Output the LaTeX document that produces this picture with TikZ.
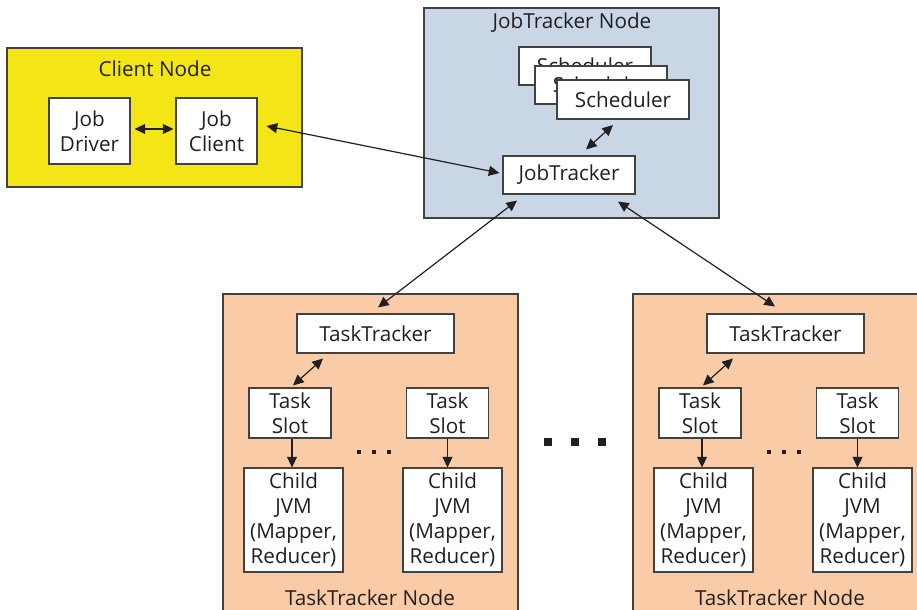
\documentclass[tikz,border=0pt]{standalone}
\usepackage{fontspec}
\setmainfont{Open Sans}
\usetikzlibrary{arrows.meta,calc}

\definecolor{clientyellow}{HTML}{F4E616}
\definecolor{jtblue}{HTML}{C9D6E5}
\definecolor{ttorange}{HTML}{F9CBA6}
\definecolor{inkgray}{HTML}{231F20}

\begin{document}
\begin{tikzpicture}[x=0.75pt, y=-0.75pt, line width=0.9pt, draw=inkgray, text=inkgray,
		font=\fontsize{15.5}{18.75}\selectfont,
		>={Triangle[length=8pt,width=7.5pt]}]
		\clip (0,0) rectangle (917,610);
		% machines
		\begin{scope}[every node/.style={draw=inkgray!85, line width=0.8pt, inner sep=0pt, minimum width=221.25pt}]
			\node[fill=clientyellow, minimum height=104.25pt] (client) at (154.5,117.5) {};
			\node[fill=jtblue, minimum height=157.5pt] (jtnode) at (571.5,113) {};
			\node[fill=ttorange, minimum height=267pt] (ttnodeL) at (370.5,472) {};
			\node[fill=ttorange, minimum height=267pt] (ttnodeR) at (780.5,472) {};
		\end{scope}
		\begin{scope}[every node/.style={}]
			\node (clienttitle) at (155,69) {Client Node};
			\node (jttitle) at (572,23) {JobTracker Node};
			\node (tttitleL) at (370,598) {TaskTracker Node};
			\node (tttitleR) at (780,598) {TaskTracker Node};
		\end{scope}
		% processes
		\begin{scope}[every node/.style={draw=inkgray!85, fill=white, line width=0.8pt, inner sep=0pt, align=center}]
			\node[minimum width=60.75pt, minimum height=49.5pt] (jobdriver) at (89.5,131) {Job\\Driver};
			\node[minimum width=60.75pt, minimum height=49.5pt] (jobclient) at (216.5,131) {Job\\Client};
			\node[minimum width=99pt, minimum height=28.5pt] (sched1) at (585,66) {Scheduler};
			\node[minimum width=99pt, minimum height=28.5pt] (sched2) at (601,85) {Scheduler};
			\node[minimum width=99pt, minimum height=29.25pt] (sched3) at (623,99.5) {Scheduler};
			\node[minimum width=99pt, minimum height=28.5pt] (jobtracker) at (569,175) {JobTracker};
			\node[minimum width=117.75pt, minimum height=29.25pt] (ttL) at (375.5,333.5) {TaskTracker};
			\node[minimum width=61.5pt, minimum height=37.5pt] (slotL1) at (290,413) {Task\\Slot};
			\node[minimum width=61.5pt, minimum height=37.5pt] (slotL2) at (447.5,413) {Task\\Slot};
			\node[minimum width=74.25pt, minimum height=78pt] (jvmL1) at (293.5,520) {Child\\JVM\\(Mapper,\\Reducer)};
			\node[minimum width=74.25pt, minimum height=78pt] (jvmL2) at (452.5,520) {Child\\JVM\\(Mapper,\\Reducer)};
			\node[minimum width=117.75pt, minimum height=29.25pt] (ttR) at (785.5,333.5) {TaskTracker};
			\node[minimum width=61.5pt, minimum height=37.5pt] (slotR1) at (700,413) {Task\\Slot};
			\node[minimum width=61.5pt, minimum height=37.5pt] (slotR2) at (857.5,413) {Task\\Slot};
			\node[minimum width=74.25pt, minimum height=78pt] (jvmR1) at (703.5,520) {Child\\JVM\\(Mapper,\\Reducer)};
			\node[minimum width=74.25pt, minimum height=78pt] (jvmR2) at (862.5,520) {Child\\JVM\\(Mapper,\\Reducer)};
		\end{scope}
		% more slots, more nodes
		\begin{scope}[every node/.style={inner sep=0pt}]
			\node (dotsL) at (374,452) {\rule{3pt}{3pt}\hspace{8.6pt}\rule{3pt}{3pt}\hspace{8.6pt}\rule{3pt}{3pt}};
			\node (dotsR) at (784,452) {\rule{3pt}{3pt}\hspace{8.6pt}\rule{3pt}{3pt}\hspace{8.6pt}\rule{3pt}{3pt}};
			\node (dotsMid) at (575,442) {\rule{6pt}{6pt}\hspace{14.25pt}\rule{6pt}{6pt}\hspace{14.25pt}\rule{6pt}{6pt}};
		\end{scope}
		% links
		\begin{scope}[<->]
			\path ($(jobdriver.east)+(4,-2)$) edge ($(jobclient.west)+(-2,-2)$);
			\path ($(jobclient.east)+(9,-5)$) edge ($(jobtracker.west)+(-3,-2)$);
			\path ($(jobtracker.north)+(17,-6)$) edge ($(sched3.south)+(-10,5.5)$);
			\path ($(jobtracker.south)+(-52,6)$) edge ($(ttL.north)+(2.5,-6)$);
			\path ($(jobtracker.south)+(49,7)$) edge ($(ttR.north)+(-10.5,-7)$);
			\path ($(ttL.south)+(-52.5,5)$) edge ($(slotL1.north)+(3,-2)$);
			\path ($(ttR.south)+(-52.5,5)$) edge ($(slotR1.north)+(3,-2)$);
		\end{scope}
		\begin{scope}[->]
			\path ($(slotL1.south)+(2,0)$) edge ($(jvmL1.north)+(-1.5,0)$);
			\path (slotL2.south) edge ($(jvmL2.north)+(-5,0)$);
			\path ($(slotR1.south)+(2,0)$) edge ($(jvmR1.north)+(-1.5,0)$);
			\path (slotR2.south) edge ($(jvmR2.north)+(-5,0)$);
		\end{scope}
	\end{tikzpicture}
\end{document}
